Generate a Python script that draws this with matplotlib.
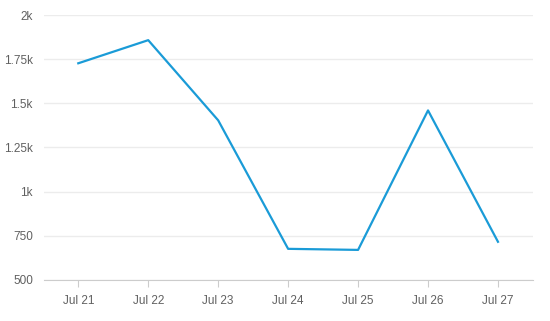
import matplotlib
matplotlib.use("Agg")
import matplotlib.pyplot as plt
from matplotlib.ticker import FuncFormatter

dates = ["Jul 21", "Jul 22", "Jul 23", "Jul 24", "Jul 25", "Jul 26", "Jul 27"]
values = [1727, 1858, 1404, 676, 670, 1460, 716]
y_ticks = [500, 750, 1000, 1250, 1500, 1750, 2000]


def fmt_k(v, pos):
    if v < 1000:
        return f"{v:g}"
    return f"{v / 1000:g}k"


plt.rcParams["font.family"] = ["Liberation Sans", "DejaVu Sans"]

fig = plt.figure(figsize=(5.5, 3.21), dpi=100)
ax = fig.add_axes([0.08, 0.128, 0.889, 0.825])

x = list(range(len(dates)))
ax.plot(x, values, color="#1a9bd7", linewidth=1.6)

ax.set_xlim(-0.49, 6.5)
ax.set_ylim(500, 2000)
ax.set_xticks(x)
ax.set_xticklabels(dates)
ax.set_yticks(y_ticks)
ax.yaxis.set_major_formatter(FuncFormatter(fmt_k))

ax.grid(axis="y", color="#ececec", linewidth=1)
ax.set_axisbelow(True)
for side in ["top", "right", "left"]:
    ax.spines[side].set_visible(False)
ax.spines["bottom"].set_color("#cccccc")

ax.tick_params(axis="x", colors="#cccccc", labelcolor="#606060", labelsize=8.5,
               length=5, pad=6)
ax.tick_params(axis="y", length=0, labelcolor="#606060", labelsize=8.5, pad=8)

fig.savefig("out.png", dpi=100)
